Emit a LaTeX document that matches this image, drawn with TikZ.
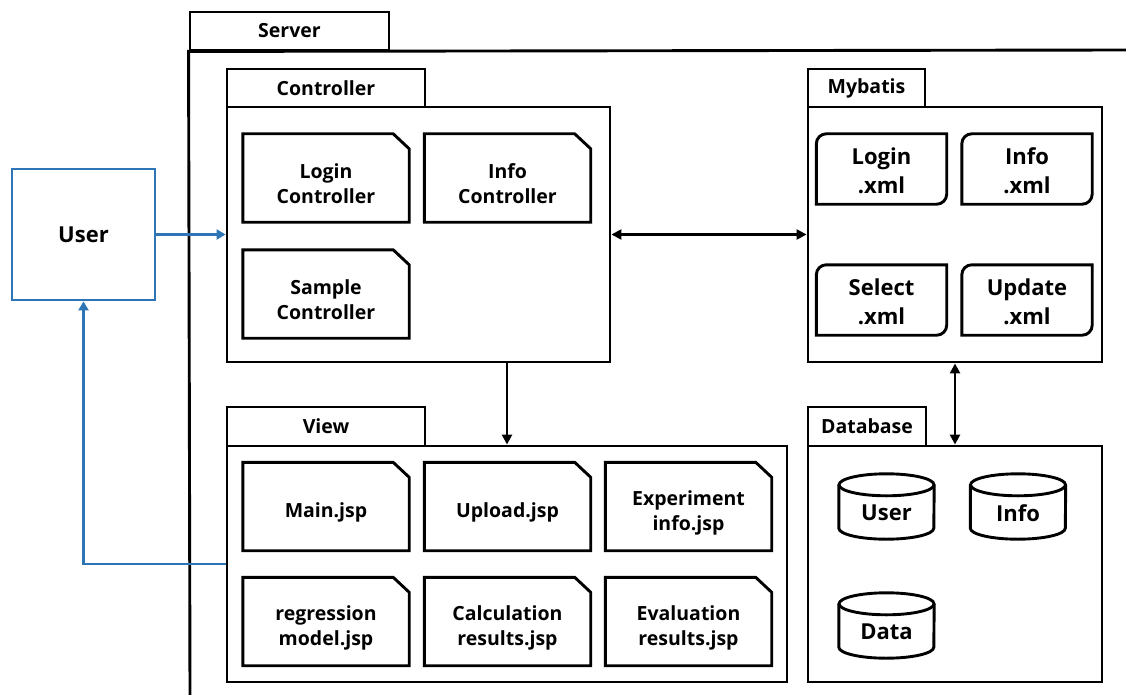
\documentclass[tikz,border=0pt]{standalone}
\usepackage{fontspec}
\setmainfont{Open Sans}
\usetikzlibrary{arrows.meta,calc}
\definecolor{ublue}{RGB}{46,117,182}
\tikzset{
  boxline/.style={line width=2.9pt, draw=black},
  box/.style={boxline, rectangle, inner sep=0pt},
  lbl/.style={font=\bfseries\fontsize{19.5}{25}\selectfont, align=center, text=black},
  biglbl/.style={font=\bfseries\fontsize{22}{29}\selectfont, align=center, text=black},
  filebox/.style={rectangle, inner sep=0pt, minimum width=166pt, minimum height=88pt},
  xmlbox/.style={rectangle, inner sep=0pt, minimum width=130pt, minimum height=70pt},
  cylbox/.style={rectangle, inner sep=0pt, minimum width=95pt, minimum height=65pt},
  blk/.style={line width=2.4pt, {Triangle[width=10pt,length=10pt]}-{Triangle[width=10pt,length=10pt]}},
  blkone/.style={line width=2.4pt, -{Triangle[width=10pt,length=10pt]}},
  bluearr/.style={line width=2.8pt, draw=ublue, -{Triangle[width=10pt,length=9pt]}},
}
\newcommand\jspfile[4]{%
  \node[filebox] (#1) at (#2,#3) {};
  \draw[boxline] (#1.north west) -- ([xshift=-16pt]#1.north east) -- ([yshift=-15pt]#1.north east) -- (#1.south east) -- (#1.south west) -- cycle;
  \node[lbl] (#1lbl) at ([yshift=-6pt]#1.center) {#4};}
\newcommand\xmlfile[4]{%
  \node[xmlbox] (#1) at (#2,#3) {};
  \draw[boxline] ([yshift=-10pt]#1.north west) arc[start angle=180,end angle=90,radius=10pt] -- (#1.north east) -- ([yshift=10pt]#1.south east) arc[start angle=0,end angle=-90,radius=10pt] -- (#1.south west) -- cycle;
  \node[biglbl] (#1lbl) at ([yshift=-2pt]#1.center) {#4};}
\newcommand\dbcyl[4]{%
  \node[cylbox] (#1) at (#2,#3) {};
  \draw[boxline] ([yshift=-11pt]#1.north) ellipse[x radius=47.5pt,y radius=11pt];
  \draw[boxline] ([yshift=-11pt]#1.north west) -- ([yshift=11pt]#1.south west) arc[start angle=180,end angle=360,x radius=47.5pt,y radius=11pt] -- ([yshift=-11pt]#1.north east);
  \node[biglbl] (#1lbl) at ([yshift=-6.5pt]#1.center) {#4};}
\begin{document}
\begin{tikzpicture}[x=1pt,y=-1pt]
\useasboundingbox (0,0) rectangle (1126,695);
% Server
\node[box, lbl, minimum width=199pt, minimum height=38pt] (servertab) at (289.5,31) {\raisebox{-1.5pt}{Server}};
\coordinate (srvbottom) at (190,695);
\coordinate (srvright) at (1126,50);
\draw[boxline] (srvbottom) -- (servertab.south west) -- (srvright);
% Controller
\node[box, lbl, minimum width=198pt, minimum height=38pt] (ctrltab) at (326,88) {\raisebox{-1pt}{Controller}};
\node[box, minimum width=383pt, minimum height=255pt] (ctrl) at (418.5,234.5) {};
\jspfile{loginc}{326}{178}{Login\\Controller}
\jspfile{infoc}{507.5}{178}{Info\\Controller}
\jspfile{samplec}{326}{294}{Sample\\Controller}
% Mybatis
\node[box, lbl, minimum width=117pt, minimum height=38pt] (mybtab) at (866.5,88) {\raisebox{-1.5pt}{Mybatis}};
\node[box, minimum width=294pt, minimum height=255pt] (myb) at (955,234.5) {};
\xmlfile{loginx}{881.5}{169}{Login\\.xml}
\xmlfile{infox}{1027}{169}{Info\\.xml}
\xmlfile{selectx}{881.5}{300}{Select\\.xml}
\xmlfile{updatex}{1027}{300}{Update\\.xml}
% View
\node[box, lbl, minimum width=198pt, minimum height=39pt] (viewtab) at (326,426.5) {\raisebox{-1pt}{View}};
\node[box, minimum width=560pt, minimum height=236pt] (view) at (507,564) {};
\jspfile{mainj}{326}{506.5}{Main.jsp}
\jspfile{uploadj}{507.5}{506.5}{Upload.jsp}
\jspfile{expj}{688.5}{506.5}{Experiment\\info.jsp}
\jspfile{regj}{326}{621.5}{regression\\model.jsp}
\jspfile{calcj}{507.5}{621.5}{Calculation\\results.jsp}
\jspfile{evalj}{688.5}{621.5}{Evaluation\\results.jsp}
% Database
\node[box, lbl, minimum width=118pt, minimum height=39pt] (dbtab) at (867,426.5) {\raisebox{-1pt}{Database}};
\node[box, minimum width=294pt, minimum height=236pt] (db) at (955,564) {};
\dbcyl{cuser}{886.5}{506.5}{User}
\dbcyl{cinfo}{1018}{506.5}{Info}
\dbcyl{cdata}{886.5}{625.5}{Data}
% User
\node[rectangle, draw=ublue, line width=2.8pt, minimum width=143pt, minimum height=131pt, biglbl] (user) at (83.5,234.5) {User};
% connectors
\draw[blk] (ctrl.east) -- (myb.west);
\draw[blkone] (ctrl.south -| view.north) -- (view.north);
\draw[blk] (myb.south) -- (db.north);
\draw[bluearr] (user.east) -- (ctrl.west);
\draw[bluearr] (view.west) -| (user.south);
\end{tikzpicture}
\end{document}
